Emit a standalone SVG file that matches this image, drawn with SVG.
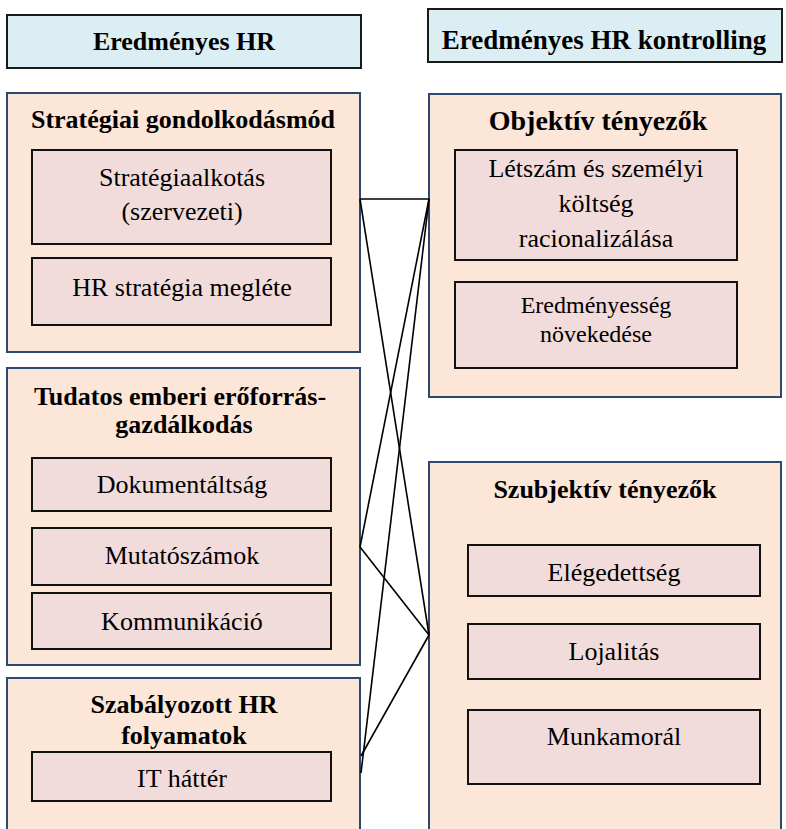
<svg xmlns="http://www.w3.org/2000/svg" width="786" height="829" viewBox="0 0 786 829">
<style>
.hdr{fill:#DBEEF3;stroke:#1a1a1a;stroke-width:2}
.outer{fill:#FCE6D8;stroke:#2A4A72;stroke-width:2}
.inner{fill:#F1DCDB;stroke:#111;stroke-width:2}
.b{font-family:"Liberation Serif","Times New Roman",serif;font-weight:bold;font-size:26px;fill:#000;text-anchor:middle}
.r{font-family:"Liberation Serif","Times New Roman",serif;font-size:26px;fill:#000;text-anchor:middle}
.s{font-size:24px}
.ln{stroke:#000;stroke-width:1.6;fill:none}
</style>
<rect width="786" height="829" fill="#fff"/>
<g id="hdr-left">
<rect class="hdr" x="7" y="15" width="354" height="53"/>
<text class="b" x="184" y="50">Eredményes HR</text>
</g>
<g id="hdr-right">
<rect class="hdr" x="428" y="9" width="354" height="53"/>
<text class="b" x="604" y="49" style="font-size:27px">Eredményes HR kontrolling</text>
</g>
<g id="strategiai">
<rect class="outer" x="7" y="93" width="353" height="259"/>
<text class="b" x="183" y="128">Stratégiai gondolkodásmód</text>
<rect class="inner" x="32" y="150" width="299" height="94"/>
<text class="r" x="182" y="186">Stratégiaalkotás</text>
<text class="r" x="182" y="220">(szervezeti)</text>
<rect class="inner" x="32" y="258" width="299" height="67"/>
<text class="r" x="182" y="296">HR stratégia megléte</text>
</g>
<g id="tudatos">
<rect class="outer" x="7" y="368" width="353" height="297"/>
<text class="b" x="180" y="405">Tudatos emberi erőforrás-</text>
<text class="b" x="184" y="433">gazdálkodás</text>
<rect class="inner" x="32" y="458" width="299" height="53"/>
<text class="r" x="182" y="493">Dokumentáltság</text>
<rect class="inner" x="32" y="528" width="299" height="57"/>
<text class="r" x="182" y="564">Mutatószámok</text>
<rect class="inner" x="32" y="593" width="299" height="56"/>
<text class="r" x="182" y="630">Kommunikáció</text>
</g>
<g id="szabalyozott">
<rect x="7" y="678" width="353" height="160" fill="#FCE6D8"/>
<path d="M7,835 V678 H360 V835" fill="none" stroke="#2A4A72" stroke-width="2"/>
<text class="b" x="184" y="713">Szabályozott HR</text>
<text class="b" x="184" y="744">folyamatok</text>
<rect class="inner" x="32" y="752" width="299" height="49"/>
<text class="r" x="182" y="787">IT háttér</text>
</g>
<g id="objektiv">
<rect class="outer" x="429" y="94" width="352" height="303"/>
<text class="b" x="598" y="130" style="font-size:28px">Objektív tényezők</text>
<rect class="inner" x="455" y="150" width="282" height="110"/>
<text class="r" x="596" y="177">Létszám és személyi</text>
<text class="r" x="596" y="212">költség</text>
<text class="r" x="596" y="247">racionalizálása</text>
<rect class="inner" x="455" y="282" width="282" height="86"/>
<text class="r s" x="596" y="313">Eredményesség</text>
<text class="r s" x="596" y="342">növekedése</text>
</g>
<g id="szubjektiv">
<rect x="429" y="462" width="352" height="380" fill="#FCE6D8"/>
<path d="M429,840 V462 H781 V840" fill="none" stroke="#2A4A72" stroke-width="2"/>
<text class="b" x="605" y="498">Szubjektív tényezők</text>
<rect class="inner" x="468" y="545" width="292" height="51"/>
<text class="r" x="614" y="581">Elégedettség</text>
<rect class="inner" x="468" y="624" width="292" height="55"/>
<text class="r" x="614" y="660">Lojalitás</text>
<rect class="inner" x="468" y="710" width="292" height="74"/>
<text class="r" x="614" y="745">Munkamorál</text>
</g>
<g id="connectors">
<line class="ln" x1="360" y1="199" x2="429" y2="199"/>
<line class="ln" x1="360" y1="199" x2="429" y2="635"/>
<line class="ln" x1="429" y1="199" x2="360" y2="547"/>
<line class="ln" x1="360" y1="547" x2="429" y2="635"/>
<line class="ln" x1="429" y1="199" x2="361" y2="773"/>
<line class="ln" x1="429" y1="635" x2="361" y2="756"/>
</g>
</svg>
